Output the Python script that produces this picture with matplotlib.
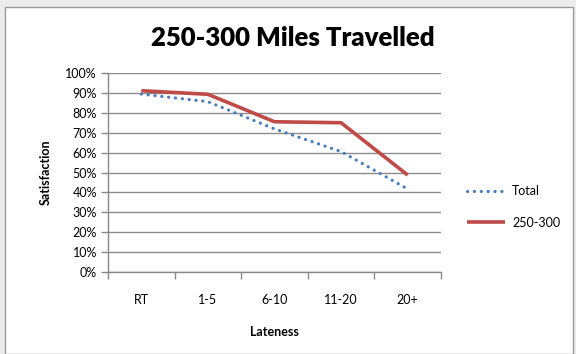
import matplotlib.pyplot as plt
from matplotlib.patches import Rectangle
from matplotlib.ticker import PercentFormatter

categories = ['RT', '1-5', '6-10', '11-20', '20+']
total = [89.4, 85.6, 71.9, 60.5, 41.7]
miles_250_300 = [91.1, 89.3, 75.5, 75.0, 48.7]

plt.rcParams['font.family'] = ['Lato', 'DejaVu Sans']

fig = plt.figure(figsize=(5.76, 3.54), dpi=100)
W, H = 576, 354

# chart frame
fig.patches.append(Rectangle((0, 0), 1, 1, transform=fig.transFigure,
                             facecolor='#ececec', edgecolor='none', zorder=-3))
fig.patches.append(Rectangle((5 / W, 0), (W - 8) / W, (H - 7) / H,
                             transform=fig.transFigure, facecolor='white',
                             edgecolor='#9a9a9a', linewidth=1.0, zorder=-2))

ax = fig.add_axes([108 / W, 1 - 272 / H, (441 - 108) / W, (272 - 73) / H])
x = list(range(len(categories)))
ax.plot(x, total, linestyle=(0, (0.05, 2.1)), color='#4a7ebb', linewidth=2.3,
        dash_capstyle='round', label='Total')
ax.plot(x, miles_250_300, color='#be4b48', linewidth=2.6,
        solid_capstyle='butt', label='250-300')

ax.set_xlim(-0.5, len(categories) - 0.5)
ax.set_ylim(0, 100)
ax.set_yticks(range(0, 101, 10))
ax.yaxis.set_major_formatter(PercentFormatter(decimals=0))
ax.set_xticks([i - 0.5 for i in range(len(categories) + 1)])
ax.set_xticklabels([])
ax.set_xticks(x, minor=True)
ax.set_xticklabels(categories, minor=True)
ax.tick_params(axis='x', which='minor', length=0, pad=16, labelsize=9)
ax.tick_params(axis='x', which='major', length=5, color='#888888', width=1)
ax.tick_params(axis='y', length=5, color='#888888', width=1, labelsize=9, pad=3)

ax.grid(axis='y', color='#8c8c8c', linewidth=1)
ax.set_axisbelow(True)
for side in ['top', 'right']:
    ax.spines[side].set_visible(False)
for side in ['left', 'bottom']:
    ax.spines[side].set_color('#888888')
    ax.spines[side].set_linewidth(1)

ax.set_xlabel('Lateness', fontweight='bold', fontsize=9, labelpad=14)
ax.set_ylabel('Satisfaction', fontweight='bold', fontsize=9, labelpad=10)
fig.text(293 / W, 1 - 38 / H, '250-300 Miles Travelled', ha='center', va='center',
         fontsize=18.5, fontweight='heavy')

fig.legend(loc='center left', bbox_to_anchor=(456 / W, 1 - 207 / H), frameon=False,
           fontsize=9, handlelength=3.0, handletextpad=0.6, labelspacing=1.55)

fig.savefig('out.png', dpi=100)
